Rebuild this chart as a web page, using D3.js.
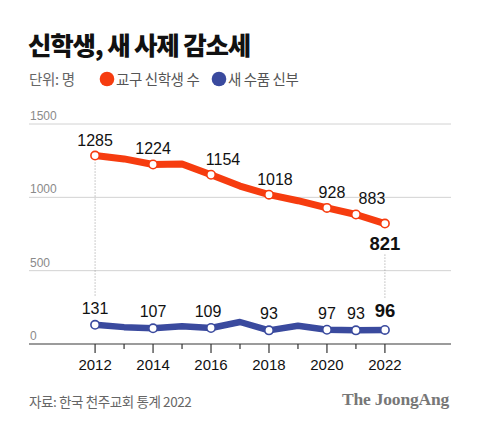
<!DOCTYPE html>
<html><head><meta charset="utf-8">
<script src="https://cdn.jsdelivr.net/npm/d3@7"></script>
<style>
html,body{margin:0;padding:0;background:#fff;}
svg{display:block;}
</style></head>
<body>
<script>
// ---- data ----
const years = [2012,2013,2014,2015,2016,2017,2018,2019,2020,2021,2022];
const seminarians = [1285,1262,1224,1227,1154,1077,1018,977,928,883,821];
const ordained = [131,115,107,121,109,150,93,125,97,93,96];
const labeledYears = [2012,2014,2016,2018,2020,2021,2022];
const yTicks = [0,500,1000,1500];
const xTickYears = [2012,2013,2014,2015,2016,2017,2018,2019,2020,2021,2022];
const title = "신학생, 새 사제 감소세";
const unitLabel = "단위: 명";
const seriesNames = ["교구 신학생 수","새 수품 신부"];
const source = "자료: 한국 천주교회 통계 2022";
const brand = "The JoongAng";

// ---- layout / style ----
const W = 480, H = 426;
const RED = "#f63c0f", BLUE = "#3a4a9e";
const NUM = "'Liberation Sans', Arial, sans-serif";
const KO = "'Noto Sans CJK KR', 'Noto Sans', sans-serif";
const redLabelDx = {2016:12, 2018:6, 2020:5, 2021:16};
const blueLabelDx = {2016:-3};

const svg = d3.select("body").append("svg").attr("width", W).attr("height", H);

const x = d3.scaleLinear().domain([2009.72, 2024.28]).range([29, 451]);
const y = d3.scaleLinear().domain([0, 1500]).range([344, 124]);

// title
svg.append("text").attr("x", 28).attr("y", 55)
  .attr("font-family", KO).attr("font-weight", 900).attr("font-size", 25.5)
  .attr("letter-spacing", -1.2).attr("fill", "#111").text(title);

// legend
svg.append("text").attr("x", 29).attr("y", 85)
  .attr("font-family", KO).attr("font-size", 14.5).attr("fill", "#666")
  .attr("letter-spacing", -0.3).text(unitLabel);
const legend = [{name: seriesNames[0], color: RED, cx: 107}, {name: seriesNames[1], color: BLUE, cx: 219}];
legend.forEach(l => {
  svg.append("circle").attr("cx", l.cx).attr("cy", 79).attr("r", 7.3).attr("fill", l.color);
  svg.append("text").attr("x", l.cx + 9).attr("y", 85)
    .attr("font-family", KO).attr("font-size", 14.5).attr("fill", "#555")
    .attr("letter-spacing", -0.4).text(l.name);
});

// gridlines
const grid = svg.append("g");
grid.selectAll("line").data(yTicks.filter(d => d > 0)).join("line")
  .attr("x1", 29).attr("x2", 451)
  .attr("y1", d => y(d)).attr("y2", d => y(d))
  .attr("stroke", "#d2d2d2").attr("stroke-width", 1);
grid.selectAll("text").data(yTicks).join("text")
  .attr("x", 30).attr("y", d => y(d) - 4)
  .attr("font-family", NUM).attr("font-size", 12).attr("fill", "#8a8a8a")
  .text(d => d);

// x axis
const xAxis = svg.append("g");
xAxis.append("line").attr("x1", 29).attr("x2", 451).attr("y1", y(0)).attr("y2", y(0))
  .attr("stroke", "#7a7a7a").attr("stroke-width", 1.6);
xAxis.selectAll("line.tick").data(xTickYears).join("line").attr("class", "tick")
  .attr("x1", d => x(d)).attr("x2", d => x(d))
  .attr("y1", y(0)).attr("y2", d => y(0) + (d % 2 === 0 ? 9 : 5))
  .attr("stroke", "#333").attr("stroke-width", 1.2);
xAxis.selectAll("text").data(xTickYears.filter(d => d % 2 === 0)).join("text")
  .attr("x", d => x(d)).attr("y", 370).attr("text-anchor", "middle")
  .attr("font-family", NUM).attr("font-size", 15).attr("fill", "#111")
  .text(d => d);

// dotted guide lines
const idx = yr => years.indexOf(yr);
svg.append("line").attr("x1", x(2012)).attr("x2", x(2012))
  .attr("y1", y(seminarians[idx(2012)]) + 7).attr("y2", y(ordained[idx(2012)]) - 28)
  .attr("stroke", "#999").attr("stroke-width", 1).attr("stroke-dasharray", "1,2");
svg.append("line").attr("x1", x(2022)).attr("x2", x(2022))
  .attr("y1", y(seminarians[idx(2022)]) + 31).attr("y2", y(ordained[idx(2022)]) - 32)
  .attr("stroke", "#999").attr("stroke-width", 1).attr("stroke-dasharray", "1,2");

// lines
const line = d3.line().x(d => x(d[0])).y(d => y(d[1]));
const series = [
  {vals: seminarians, color: RED, width: 7},
  {vals: ordained, color: BLUE, width: 6.5}
];
series.forEach(s => {
  const pts = years.map((yr, i) => [yr, s.vals[i]]);
  svg.append("path").datum(pts).attr("d", line)
    .attr("fill", "none").attr("stroke", s.color).attr("stroke-width", s.width)
    .attr("stroke-linejoin", "round").attr("stroke-linecap", "round");
  svg.append("g").selectAll("circle").data(pts.filter(p => labeledYears.includes(p[0]))).join("circle")
    .attr("cx", d => x(d[0])).attr("cy", d => y(d[1])).attr("r", 4.2)
    .attr("fill", "#fff").attr("stroke", s.color).attr("stroke-width", 1.6);
});

// value labels
labeledYears.forEach(yr => {
  const i = idx(yr);
  const last = yr === 2022;
  // red
  svg.append("text")
    .attr("x", x(yr) + (redLabelDx[yr] || 0))
    .attr("y", last ? y(seminarians[i]) + 26 : y(seminarians[i]) - 10)
    .attr("text-anchor", "middle").attr("font-family", NUM)
    .attr("font-size", last ? 18.5 : 16).attr("font-weight", last ? "bold" : "normal")
    .attr("fill", "#111").text(seminarians[i]);
  // blue
  svg.append("text")
    .attr("x", x(yr) + (blueLabelDx[yr] || 0))
    .attr("y", last ? y(ordained[i]) - 13 : y(ordained[i]) - 11)
    .attr("text-anchor", "middle").attr("font-family", NUM)
    .attr("font-size", last ? 18.5 : 16).attr("font-weight", last ? "bold" : "normal")
    .attr("fill", "#111").text(ordained[i]);
});

// footer
svg.append("text").attr("x", 29).attr("y", 407)
  .attr("font-family", KO).attr("font-size", 13.5).attr("fill", "#666")
  .attr("letter-spacing", -0.4).text(source);
svg.append("text").attr("x", 449).attr("y", 405).attr("text-anchor", "end")
  .attr("font-family", "'Liberation Serif', 'DejaVu Serif', serif").attr("font-weight", "bold")
  .attr("font-size", 17.5).attr("fill", "#777").attr("letter-spacing", -0.2).text(brand);
</script>
</body></html>
